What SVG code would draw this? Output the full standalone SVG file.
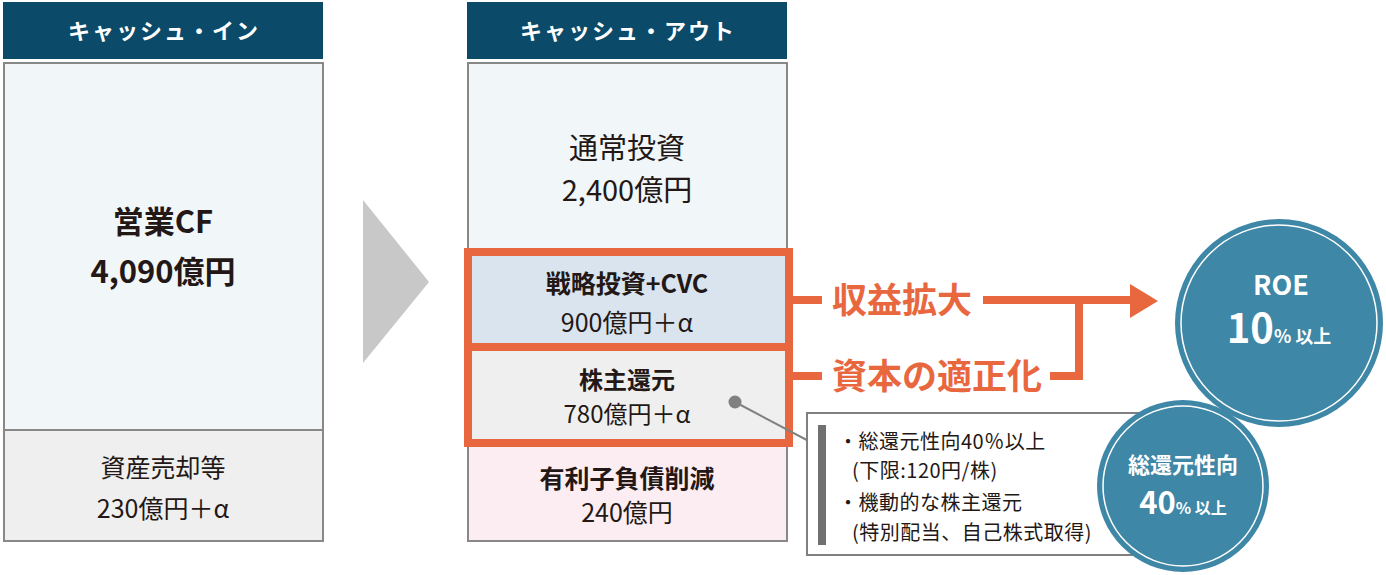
<svg xmlns="http://www.w3.org/2000/svg" width="1386" height="575" viewBox="0 0 1386 575">
<style>
text{font-family:"Noto Sans CJK JP","Noto Sans",sans-serif;text-anchor:middle;fill:#231815}
.hd{fill:#0b4a68}
.ht{fill:#fff;font-size:22px;font-weight:bold;letter-spacing:2px}
.bx{stroke:#888;stroke-width:2}
.t{font-size:29px}
.tb{font-size:31px;font-weight:bold}
.b{font-weight:bold}
.m{font-size:25px}
.m2{font-size:24px}
.or{stroke:#e8673f;fill:none;stroke-width:8}
.ot{fill:#e8673f;font-size:35px;font-weight:bold;text-anchor:start}
.cc{fill:#3e87a6}
.ring{fill:none;stroke:#fff;stroke-width:1.5}
.ct{fill:#fff;font-weight:bold}
.nt{font-size:20px;text-anchor:start;letter-spacing:0.5px}
</style>
<rect width="1386" height="575" fill="#fff"/>
<g id="arrow-main"><polygon points="363,200 429,282 363,363" fill="#c8c8c8"/></g>
<g id="cash-in">
<rect class="hd" x="3" y="2" width="320" height="57"/>
<text class="ht" x="164" y="39">キャッシュ・イン</text>
<rect class="bx" x="4" y="63" width="319" height="367" fill="#f1f6f9"/>
<text class="tb" x="163" y="233">営業CF</text>
<text class="tb" x="163" y="283">4,090億円</text>
<rect class="bx" x="4" y="430" width="319" height="111" fill="#efefef"/>
<text class="m" x="163" y="477">資産売却等</text>
<text class="m" x="163" y="518">230億円＋α</text>
</g>
<g id="cash-out">
<rect class="hd" x="467" y="2" width="320" height="57"/>
<text class="ht" x="628" y="39">キャッシュ・アウト</text>
<rect class="bx" x="468" y="63" width="319" height="478" fill="#f1f6f9"/>
<text class="t" x="627" y="159">通常投資</text>
<text class="t" x="627" y="201">2,400億円</text>
<rect x="472" y="256" width="313" height="88" fill="#d9e4ee"/>
<text class="m b" x="627" y="293">戦略投資+CVC</text>
<text class="m" x="627" y="332">900億円＋α</text>
<rect x="472" y="350" width="313" height="90" fill="#efefef"/>
<text class="m2 b" x="627" y="389">株主還元</text>
<text class="m2" x="627" y="423">780億円＋α</text>
<rect x="469" y="447" width="317" height="93" fill="#fcedf2"/>
<text class="m b" x="627" y="488">有利子負債削減</text>
<text class="m" x="627" y="522">240億円</text>
<rect class="or" x="468" y="252" width="321" height="191"/>
<line class="or" x1="468" y1="347" x2="789" y2="347"/>
</g>
<g id="connectors">
<line class="or" x1="789" y1="300" x2="822" y2="300"/>
<line class="or" x1="789" y1="376" x2="822" y2="376"/>
<polyline class="or" points="983,300 1132,300"/>
<polygon points="1130,284 1158,301 1130,318" fill="#e8673f"/>
<polyline class="or" points="1050,376 1079,376 1079,300"/>
<line x1="735" y1="402" x2="820" y2="447" stroke="#808080" stroke-width="2"/>
<circle cx="735" cy="402" r="6.5" fill="#808080"/>
</g>
<g id="label-growth"><text class="ot" x="832" y="313">収益拡大</text></g>
<g id="label-capital"><text class="ot" x="832" y="389">資本の適正化</text></g>
<g id="note">
<rect x="807" y="413" width="335" height="142" fill="#fff" stroke="#808080" stroke-width="2"/>
<rect x="818" y="425" width="8" height="120" fill="#707070"/>
<text class="nt" x="838" y="449">・総還元性向40％以上</text>
<text class="nt" x="852" y="478">(下限:120円/株)</text>
<text class="nt" x="838" y="510">・機動的な株主還元</text>
<text class="nt" x="852" y="540">(特別配当、自己株式取得)</text>
</g>
<g id="roe">
<circle class="cc" cx="1279" cy="323" r="104"/>
<circle class="ring" cx="1279" cy="323" r="98"/>
<text class="ct" x="1281" y="295" font-size="27">ROE</text>
<text class="ct" x="1279" y="343"><tspan font-size="40">10</tspan><tspan font-size="18">% 以上</tspan></text>
</g>
<g id="payout">
<circle class="cc" cx="1183" cy="486" r="86"/>
<circle class="ring" cx="1183" cy="486" r="80"/>
<text class="ct" x="1183" y="473" font-size="22">総還元性向</text>
<text class="ct" x="1183" y="514"><tspan font-size="31">40</tspan><tspan font-size="16">% 以上</tspan></text>
</g>
</svg>
